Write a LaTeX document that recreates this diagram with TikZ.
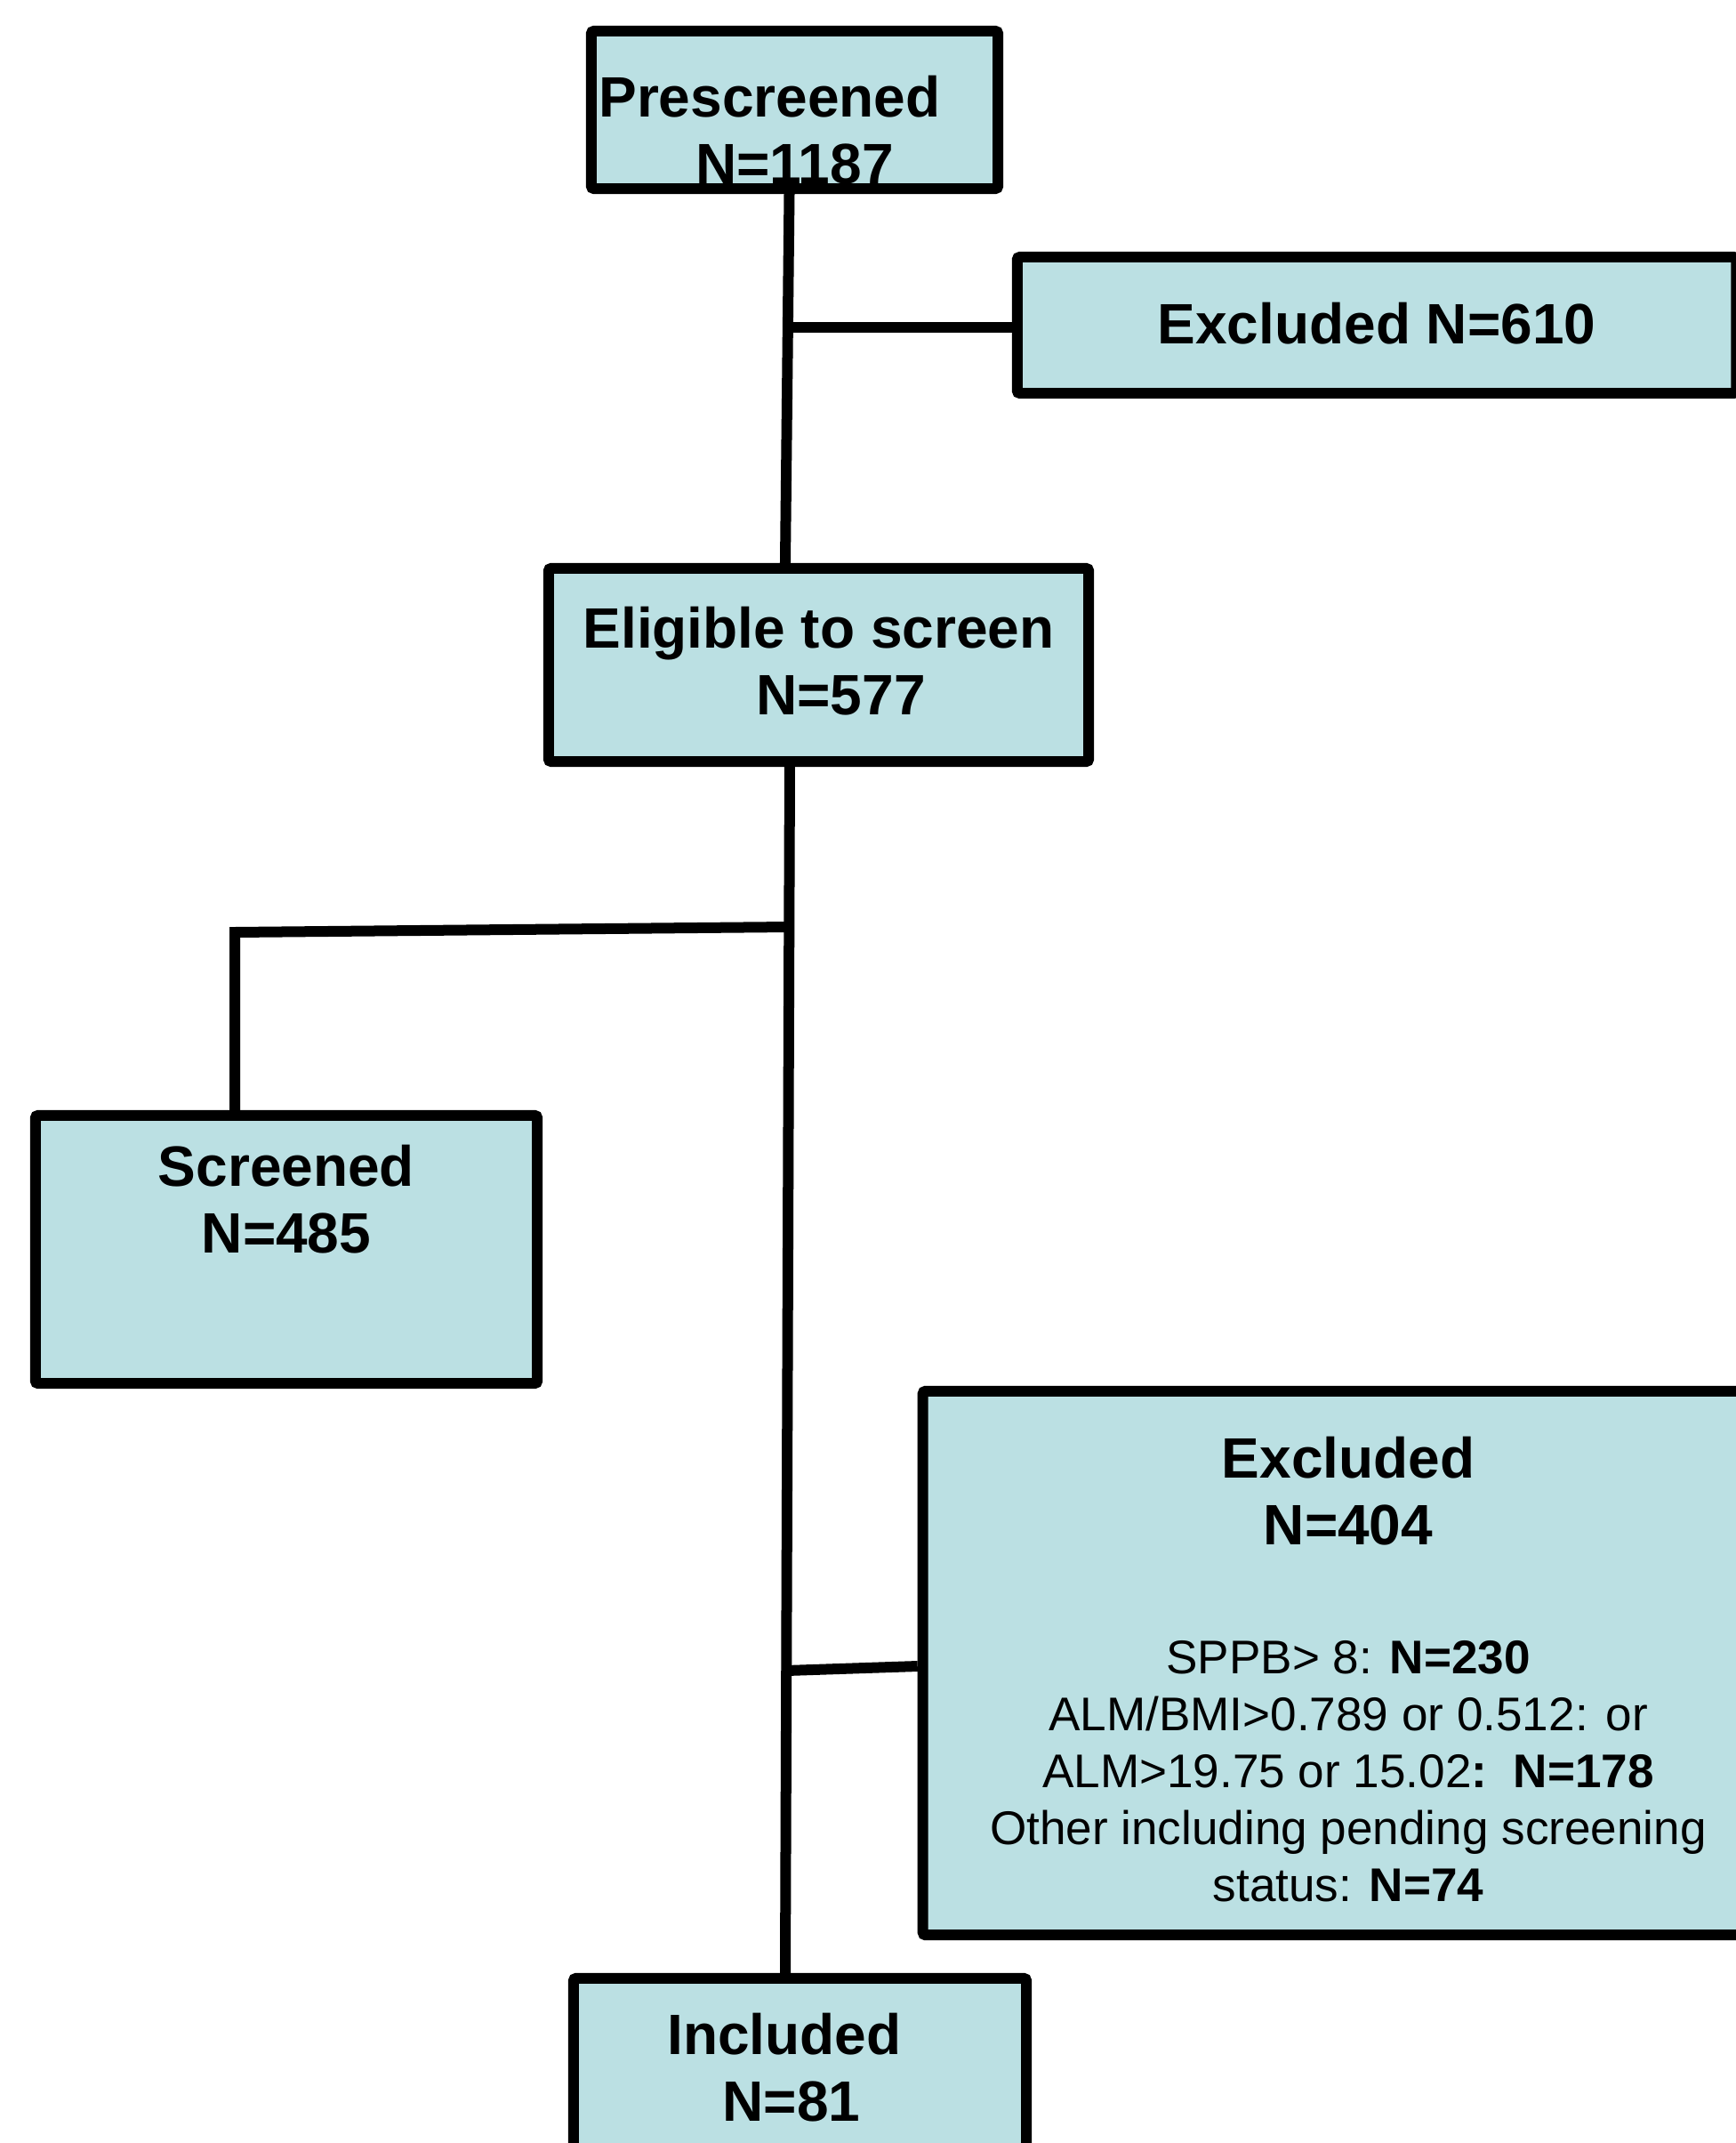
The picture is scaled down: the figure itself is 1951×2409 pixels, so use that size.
\documentclass[tikz,border=0pt]{standalone}
\usepackage{fontspec}
\setmainfont{Liberation Sans}
\usepackage{tikz}
\usetikzlibrary{positioning, calc}

\definecolor{boxfill}{HTML}{BBE0E3}
\newcommand{\titlefont}{\fontsize{18.2pt}{21.3pt}\selectfont\bfseries}
\newcommand{\notefont}{\fontsize{15.1pt}{18.2pt}\selectfont\mdseries}

\begin{document}
\begin{tikzpicture}[
  x=0.01cm, y=-0.01cm,
  box/.style={rectangle, draw, line width=0.12cm, fill=boxfill, rounded corners=0.03cm,
    inner sep=0pt, align=center, font=\titlefont, text height=0pt, text depth=0pt},
  link/.style={line width=0.12cm}
]
  \useasboundingbox (0,0) rectangle (1951,2409);

  % boxes
  \node[box, minimum width=4.57cm, minimum height=1.77cm, text height=1.65cm] (pre) at (893.5,123.5)
    {Prescreened\hspace*{0.56cm}\\N=1187};
  \node[box, minimum width=8.08cm, minimum height=1.53cm, text height=0.41cm] (exc1) at (1548,365.5)
    {Excluded N=610};
  \node[box, minimum width=6.07cm, minimum height=2.17cm, text height=1.11cm] (eli) at (920.5,747.5)
    {Eligible to screen\\\hspace*{0.5cm}N=577};
  \node[box, minimum width=5.64cm, minimum height=3.01cm, text height=0.07cm] (scr) at (322,1404.5)
    {Screened\\N=485};
  \node[box, minimum width=9.56cm, minimum height=6.11cm, text height=5.35cm, font=\notefont] (exc2) at (1516,1869.5)
    {{\titlefont Excluded}\\[0.11cm]
     {\titlefont N=404}\\[0.81cm]
     SPPB> 8: \textbf{N=230}\\
     ALM/BMI>0.789 or 0.512: or\\
     ALM>19.75 or 15.02\textbf{:\ \ N=178}\\
     Other including pending screening\\
     status: \textbf{N=74}};
  \node[box, minimum width=5.09cm, minimum height=4cm, text depth=0.8cm] (inc) at (899.5,2424)
    {Included\hspace*{0.35cm}\\N=81\hspace*{0.19cm}};

  % junctions
  \coordinate (j1) at (886,368);
  \coordinate (j2) at (887,1042);
  \coordinate (c1) at (264,1048);
  \coordinate (j3) at (884,1878);

  % connectors
  \draw[link] ([xshift=-0.06cm]pre.south) -- ([xshift=-0.375cm]eli.north);
  \draw[link] (j1) -- (j1 -| exc1.west);
  \draw[link] ([xshift=-0.325cm]eli.south) -- ([xshift=-0.165cm]inc.north);
  \draw[link] (j2) -- (c1) -- (c1 |- scr.north);
  \draw[link] (j3) -- ([yshift=-0.035cm]exc2.west);
\end{tikzpicture}
\end{document}
